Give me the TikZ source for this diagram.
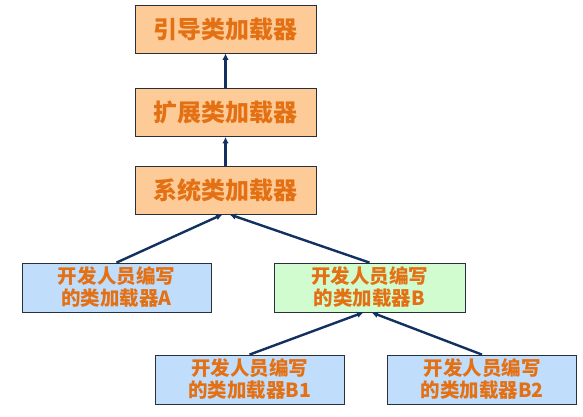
\documentclass[tikz,border=0pt]{standalone}
\usepackage{fontspec}
\newfontfamily\cjk{Noto Sans CJK SC}
\usepackage{tikz}
\usetikzlibrary{arrows.meta}
\usetikzlibrary{positioning}
\definecolor{boxorange}{RGB}{252,203,152}
\definecolor{boxblue}{RGB}{192,222,252}
\definecolor{boxgreen}{RGB}{208,252,208}
\definecolor{txtorange}{RGB}{228,112,20}
\definecolor{linenavy}{RGB}{18,48,96}
\definecolor{edgegray}{RGB}{40,48,60}
\tikzset{
	loader/.style={draw=edgegray,line width=0.8bp,minimum width=181bp,minimum height=48bp,
		fill=boxorange,text=txtorange,font=\cjk\bfseries\fontsize{24bp}{26bp}\selectfont},
	userloader/.style={draw=edgegray,line width=0.8bp,minimum width=189bp,minimum height=49bp,
		fill=boxblue,text=txtorange,align=center,inner sep=0pt,
		font=\cjk\bfseries\fontsize{19.5bp}{22bp}\selectfont},
	parent/.style={-{Latex[length=6.5bp,width=6.5bp]},line width=2.4bp,draw=linenavy}
}
\begin{document}
\begin{tikzpicture}[x=1bp,y=-1bp]
			\useasboundingbox (0,0) rectangle (583,416);
			% system loaders
			\node[loader] (boot) at (225.5,29) {引导类加载器};
			\node[loader] (ext) at (225.5,112.5) {扩展类加载器};
			\node[loader] (sys) at (225.5,190) {系统类加载器};
			% loaders written by developers
			\node[userloader] (A) at (116.5,287.5) {开发人员编写\\的类加载器A};
			\node[userloader,fill=boxgreen,minimum width=191bp] (B) at (369.5,287.5) {开发人员编写\\的类加载器B};
			\node[userloader] (B1) at (249.5,379.5) {开发人员编写\\的类加载器B1};
			\node[userloader] (B2) at (482,379.5) {开发人员编写\\的类加载器B2};
			% delegation
			\draw[parent] (ext) -- (boot);
			\draw[parent] (sys) -- (ext);
			\foreach \child/\dx in {A/-3,B/4}
			{
			\draw[parent] (\child.north) -- ([xshift=\dx bp]sys.south);
			}
			\foreach \child/\dx in {B1/-6,B2/2}
			{
			\draw[parent] (\child.north) -- ([xshift=\dx bp]B.south);
			}
		\end{tikzpicture}
\end{document}
